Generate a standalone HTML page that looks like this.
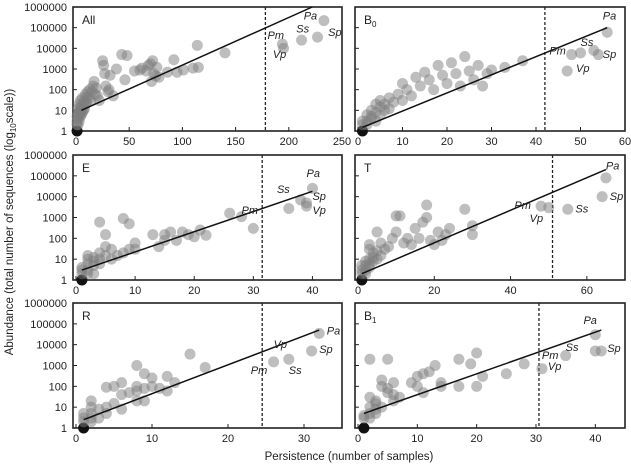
<!DOCTYPE html>
<html><head><meta charset="utf-8">
<style>
body{margin:0;background:#fff;}
svg{display:block;font-family:"Liberation Sans",Arial,sans-serif;}
</style></head>
<body>
<svg id="chart" width="631" height="467" viewBox="0 0 631 467" xmlns="http://www.w3.org/2000/svg"></svg>
<script>
// ---- data ----
const yTickLabels = ["1","10","100","1000","10000","100000","1000000"];
const panelNames = ["All","B0","E","T","R","B1"];
const xMax = [250,60,45,70,35,45];
const xTicks = [[0,50,100,150,200,250],[0,10,20,30,40,50,60],[0,10,20,30,40],[0,20,40,60],[0,10,20,30],[0,10,20,30,40]];
const cutoff = [178,42,31.5,51,24.5,30.5];
const lineStart = [[5,10],[1,1.5],[1,3],[1,2],[1,2.5],[1,5]];
const lineEnd = [[222,1000000],[56,100000],[40,18000],[65,200000],[32,50000],[41,50000]];
const ptsAll = [[1,1],[1,2],[1,3],[1,5],[2,2],[2,4],[2,7],[2,12],[3,3],[3,6],[3,9],[3,20],[4,5],[4,8],[4,12],[4,30],[5,6],[5,10],[5,18],[6,8],[6,14],[6,40],[7,10],[7,20],[8,12],[8,30],[9,20],[9,60],[10,25],[10,45],[11,80],[12,40],[13,100],[14,30],[15,80],[16,150],[17,250],[18,60],[19,120],[20,50],[22,30],[25,2500],[26,1500],[27,600],[28,150],[30,80],[31,100],[32,500],[35,50],[38,1000],[43,5000],[46,300],[48,4500],[55,800],[60,900],[62,1100],[66,800],[68,1500],[70,1800],[71,250],[72,2500],[73,600],[75,450],[76,1200],[78,400],[86,700],[92,2800],[95,700],[101,900],[110,1100],[114,14000],[115,1200],[140,6000],[194,16000],[195,10000],[212,25000],[227,35000],[233,220000]];
const ptsB0 = [[1,1],[1,2],[1,3],[2,2],[2,3],[2,6],[3,4],[3,5],[3,10],[4,3],[4,8],[4,20],[5,6],[5,15],[5,30],[6,10],[6,20],[7,40],[7,12],[8,25],[9,60],[10,30],[10,200],[11,100],[12,50],[13,400],[14,150],[15,700],[16,300],[17,100],[18,1500],[19,500],[20,200],[21,2000],[22,600],[23,150],[24,4000],[25,800],[26,300],[27,1500],[28,150],[29,600],[30,900],[33,1200],[37,2500],[47,800],[48,5000],[50,6000],[53,8000],[54,5000],[56,60000]];
const ptsE = [[1,1],[1,2],[1,4],[1,3],[2,3],[2,6],[2,10],[2,15],[2,2],[3,5],[3,8],[3,2],[3,12],[4,600],[4,10],[4,20],[4,6],[5,150],[5,40],[5,15],[6,30],[6,10],[7,15],[8,900],[8,20],[9,500],[9,30],[10,60],[10,30],[13,150],[14,40],[15,80],[15,150],[16,200],[17,80],[18,200],[19,150],[20,120],[21,250],[22,140],[26,1600],[28,1100],[30,300],[36,2700],[38,7000],[39,3500],[39,5000],[40,25000]];
const ptsT = [[1,1],[1,2],[1,3],[1,5],[2,2],[2,3],[2,5],[2,8],[3,4],[3,10],[3,30],[3,50],[3,6],[4,8],[4,20],[4,12],[5,10],[5,200],[5,25],[6,15],[6,60],[7,30],[8,40],[9,100],[10,200],[10,1200],[11,1200],[12,60],[13,100],[14,50],[15,300],[16,100],[17,600],[18,4000],[18,1000],[19,80],[20,50],[21,200],[22,80],[23,150],[24,300],[28,2500],[30,400],[30,150],[48,3500],[50,3000],[55,2500],[64,10000],[65,80000]];
const ptsR = [[1,1],[1,2],[1,3],[1,5],[2,5],[2,10],[2,3],[2,20],[2,2],[3,8],[3,3],[4,10],[4,5],[4,90],[5,15],[5,100],[6,40],[6,8],[6,150],[7,50],[8,60],[8,20],[8,1000],[8,100],[9,400],[9,20],[9,80],[10,250],[10,100],[11,80],[12,300],[12,60],[13,150],[15,3500],[17,800],[26,1500],[28,2000],[31,5000],[32,35000]];
const ptsB1 = [[1,1],[1,3],[1,4],[2,5],[2,10],[2,3],[2,30],[2,2000],[3,8],[3,15],[3,20],[3,5],[4,10],[4,100],[4,200],[5,50],[5,2000],[5,80],[6,20],[6,40],[6,150],[7,30],[9,150],[10,300],[10,100],[11,400],[11,50],[12,500],[13,1000],[14,150],[14,100],[17,2000],[17,100],[19,1200],[20,4000],[20,100],[21,300],[25,400],[28,1200],[31,700],[35,3000],[40,30000],[40,5000],[41,5000]];
const points = [ptsAll,ptsB0,ptsE,ptsT,ptsR,ptsB1];
// species labels: [text, x, y] in data units
const annotations = [
 [["Pa",214,250000],["Ss",207,60000],["Sp",237,40000],["Pm",180,28000],["Vp",185,3500]],
 [["Pa",55,250000],["Ss",50,13000],["Sp",55,3500],["Pm",43,5000],["Vp",49,700]],
 [["Pa",39,90000],["Ss",34,15000],["Sp",40,7000],["Pm",28,1500],["Vp",40,1500]],
 [["Pa",65,200000],["Sp",66,7000],["Ss",57,1700],["Pm",41,2500],["Vp",45,600]],
 [["Pa",33,30000],["Sp",32,4000],["Vp",26,7000],["Pm",23,400],["Ss",28,400]],
 [["Pa",38,100000],["Ss",35,5000],["Sp",42,4500],["Pm",31,2000],["Vp",32,600]]
];
// ---- layout ----
const colLeft = [73,355], colRight=[342,625], colX0=[76,358];
const rowTop=[7,155,303], rowBot=[131,280,428];
const NS="http://www.w3.org/2000/svg";
const svg=document.getElementById('chart');
function mk(tag,attrs,parent){const e=document.createElementNS(NS,tag);for(const k in attrs)e.setAttribute(k,attrs[k]);(parent||svg).appendChild(e);return e;}

for(let p=0;p<6;p++){
  const c=p%2, r=Math.floor(p/2);
  const L=colLeft[c], R=colRight[c], T=rowTop[r], B=rowBot[r], x0=colX0[c];
  const xs=v=>x0+(R-x0)*v/xMax[p];
  const ys=v=>B-(B-T)*Math.log10(v)/6;
  const g=mk('g',{});
  
  
  const fr=mk('rect',{x:L,y:T,width:R-L,height:B-T,fill:'none',stroke:'#222','stroke-width':1.6},g);
  
  
  for(let i=0;i<yTickLabels.length;i++){
    const y=ys(Math.pow(10,i));
    mk('line',{x1:L,x2:L+4,y1:y,y2:y,stroke:'#222'},g);
    if(c===0){
      const t=mk('text',{x:L-6,y:y+4,'text-anchor':'end','font-size':11,fill:'#222'},g);
      t.textContent=yTickLabels[i];
      
      
    }
  }
  xTicks[p].forEach(v=>{
    const x=xs(v);
    mk('line',{x1:x,x2:x,y1:B,y2:B-4,stroke:'#222'},g);
    const t=mk('text',{x:x,y:B+14,'text-anchor':'middle','font-size':11,fill:'#222'},g);
    t.textContent=v;
    
    
  });
  const d=mk('line',{x1:xs(cutoff[p]),x2:xs(cutoff[p]),y1:T,y2:B,stroke:'#222','stroke-width':1.3,'stroke-dasharray':'3,2'},g);
  
  
  points[p].forEach(pt=>{
    const black = pt[0]===1 && pt[1]===1;
    const ci=mk('circle',{cx:xs(pt[0]),cy:ys(pt[1]),r:5.5,fill:black?'#111':'#7d7d7d','fill-opacity':black?1:0.5},g);
    
    
  });
  const ln=mk('line',{x1:xs(lineStart[p][0]),y1:ys(lineStart[p][1]),x2:xs(lineEnd[p][0]),y2:ys(lineEnd[p][1]),stroke:'#111','stroke-width':1.5},g);
  
  
  annotations[p].forEach(a=>{
    const t=mk('text',{x:xs(a[1]),y:ys(a[2]),'font-size':11,'font-style':'italic',fill:'#222'},g);
    t.textContent=a[0];
    
    
  });
  const ti=mk('text',{x:L+9,y:T+17,'font-size':12,fill:'#222'},g);
  
  
  const nm=panelNames[p];
  if(nm.length===2 && nm[0]==='B'){
    ti.textContent='B';
    const s=mk('tspan',{'font-size':8,dy:3},ti); s.textContent=nm[1];
  } else ti.textContent=nm;
}
const yt=mk('text',{x:0,y:0,transform:'translate(13,222) rotate(-90)','text-anchor':'middle','font-size':11.5,fill:'#222'});


yt.appendChild(document.createTextNode('Abundance (total number of sequences (log'));
const sb=mk('tspan',{'font-size':8,dy:3},yt); sb.textContent='10';
const rest=mk('tspan',{dy:-3},yt); rest.textContent='scale))';
const xt=mk('text',{x:349,y:460,'text-anchor':'middle','font-size':11.5,fill:'#222'});
xt.textContent='Persistence (number of samples)';


</script>
</body></html>
